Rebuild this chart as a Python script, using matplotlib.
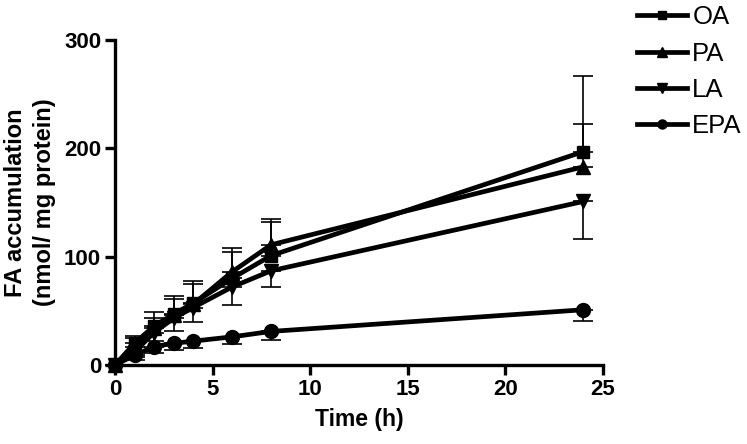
import matplotlib
matplotlib.use("Agg")
import matplotlib.pyplot as plt
import numpy as np

plt.rcParams['font.family'] = ['Liberation Sans', 'DejaVu Sans']

time_h = [0, 1, 2, 3, 4, 6, 8, 24]
series_names = ["OA", "PA", "LA", "EPA"]
oa = [0, 20, 36, 47, 57, 80, 101, 197]
pa = [0, 17, 34, 46, 56, 86, 111, 183]
la = [0, 12, 30, 43, 53, 72, 87, 151]
epa = [0, 9, 17, 20, 22, 26, 31, 51]
oa_err = [0, 7, 13, 17, 21, 24, 31, 70]
pa_err = [0, 8, 9, 15, 19, 22, 24, 39]
la_err = [0, 5, 8, 12, 13, 17, 15, 35]
epa_err = [0, 4, 6, 6, 6, 7, 8, 10]
x_ticks = [0, 5, 10, 15, 20, 25]
y_ticks = [0, 100, 200, 300]

fig = plt.figure(figsize=(7.47, 4.44), dpi=100)
ax = fig.add_axes([115/747, 1-365/444, (603-115)/747, (365-40)/444])

markers = ['s', '^', 'v', 'o']
values = [oa, pa, la, epa]
errs = [oa_err, pa_err, la_err, epa_err]
upper = [True, True, False, False]
msizes = [9, 10, 10, 10]
handles = []
for name, m, v, e, up, ms in zip(series_names, markers, values, errs, upper, msizes):
    v = np.array(v, float); e = np.array(e, float)
    if up:
        yerr = [np.zeros_like(e), e]
    else:
        yerr = [e, np.zeros_like(e)]
    ax.errorbar(time_h, v, yerr=yerr, fmt='none', ecolor='black', elinewidth=1.2,
                capsize=7, capthick=1.2, zorder=2, clip_on=False)
    h, = ax.plot(time_h, v, color='black', lw=3.4, marker=m, ms=ms,
                 label=name, zorder=3, clip_on=False)
    handles.append(h)

ax.set_xlim(0, 25)
ax.set_ylim(0, 300)
ax.set_xticks(x_ticks)
ax.set_yticks(y_ticks)
for s in ['top', 'right']:
    ax.spines[s].set_visible(False)
for s in ['left', 'bottom']:
    ax.spines[s].set_linewidth(2.4)
ax.tick_params(width=2.4, length=7, direction='out', labelsize=16, pad=3)
for lab in ax.get_xticklabels() + ax.get_yticklabels():
    lab.set_fontweight('bold')
ax.set_xlabel("Time (h)", fontsize=16.5, fontweight='bold', labelpad=6)
ax.set_ylabel("FA accumulation\n(nmol/ mg protein)", fontsize=17,
              fontweight='bold', labelpad=6, linespacing=1.3)

fig.legend(handles=handles, labels=series_names, loc='upper left',
           bbox_to_anchor=(614/747, 1.04), frameon=False, fontsize=18.5,
           handlelength=1.95, handletextpad=0.2, labelspacing=0.48,
           markerscale=0.65)

fig.savefig("out.png", dpi=100)
